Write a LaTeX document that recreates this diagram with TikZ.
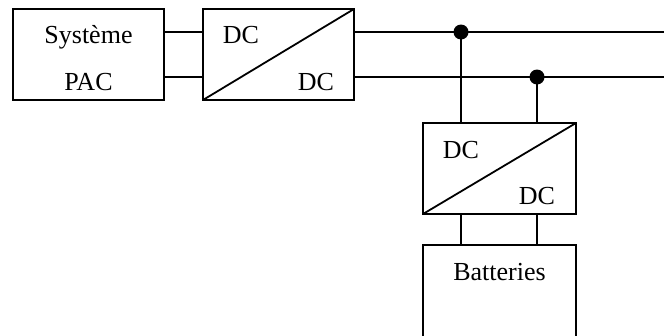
\documentclass[tikz,border=0pt]{standalone}
\usepackage{fontspec}
\setmainfont{Liberation Serif}
\tikzset{
  x=1pt,y=-1pt,
  wire/.style={line width=1.8pt,black},
  blockbox/.style={draw=black,line width=1.8pt,fill=white,rectangle,anchor=north west,outer sep=0pt,inner sep=0pt},
  label/.style={font=\fontsize{26}{26}\selectfont,inner sep=0pt,text=black},
  junction/.style={circle,fill=black,draw=none,minimum size=15pt,inner sep=0pt,outer sep=0pt},
}
\begin{document}
\begin{tikzpicture}
\useasboundingbox (0,0) rectangle (664,335);
\coordinate (endA) at (664,32);
\coordinate (endB) at (664,77);
\coordinate (jA) at (461,32);
\coordinate (jB) at (537,77);
\node[blockbox,minimum width=151pt,minimum height=91pt] (sys) at (13,9) {};
\node[blockbox,minimum width=151pt,minimum height=91pt] (dcA) at (203,9) {};
\node[blockbox,minimum width=153pt,minimum height=91pt] (dcB) at (423,123) {};
\node[blockbox,minimum width=153pt,minimum height=110pt] (bat) at (423,245) {};
\draw[wire] (sys.east |- endA) -- (dcA.west |- endA);
\draw[wire] (sys.east |- endB) -- (dcA.west |- endB);
\draw[wire] (dcA.east |- endA) -- (endA);
\draw[wire] (dcA.east |- endB) -- (endB);
\draw[wire] (dcA.south west) -- (dcA.north east);
\draw[wire] (dcB.south west) -- (dcB.north east);
\draw[wire] (jA) -- (jA |- dcB.north);
\draw[wire] (jB) -- (jB |- dcB.north);
\draw[wire] (jA |- dcB.south) -- (jA |- bat.north);
\draw[wire] (jB |- dcB.south) -- (jB |- bat.north);
\node[junction] (dotA) at (jA) {};
\node[junction] (dotB) at (jB) {};
\node[label,anchor=base] (t1) at (88.5,43.5) {Système};
\node[label,anchor=base] (t2) at (88.5,90) {PAC};
\node[label,anchor=base] (t3) at (241,43.5) {DC};
\node[label,anchor=base] (t4) at (316,90) {DC};
\node[label,anchor=base] (t5) at (461,158) {DC};
\node[label,anchor=base] (t6) at (537,204) {DC};
\node[label,anchor=base] (t7) at (499.5,280) {Batteries};
\end{tikzpicture}
\end{document}
